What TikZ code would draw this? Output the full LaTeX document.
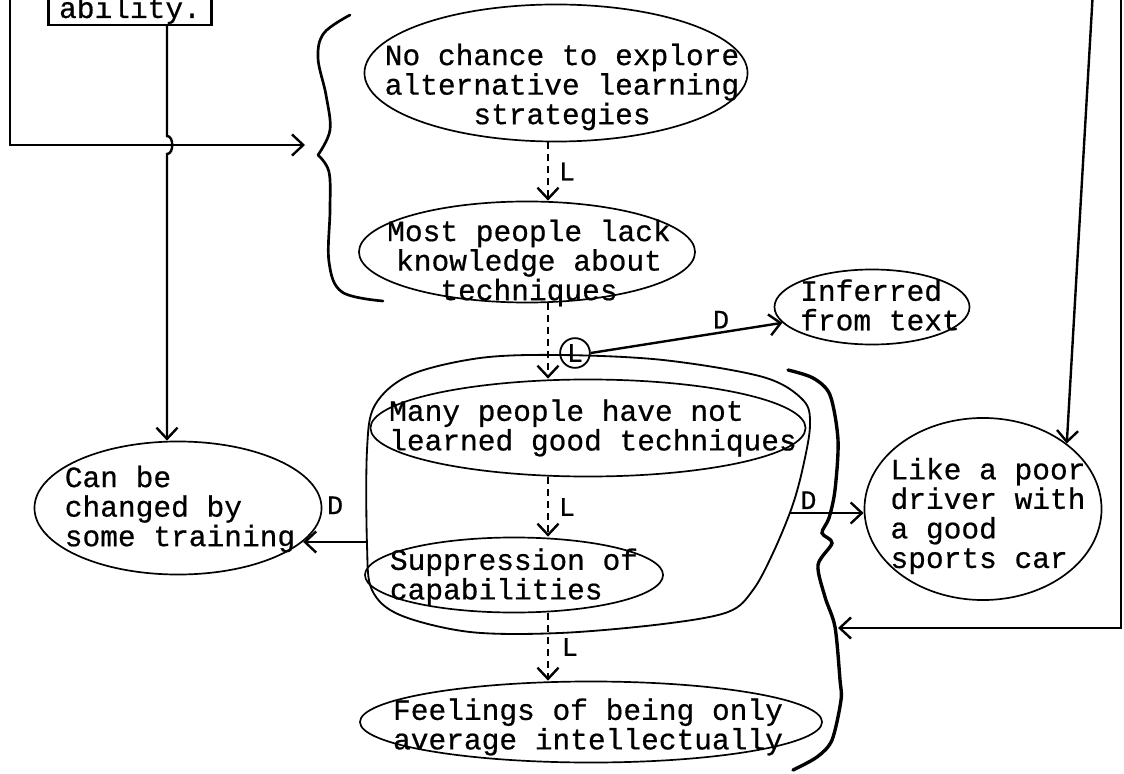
\documentclass[tikz,border=0pt]{standalone}
\usepackage{fontspec}
\setmonofont{Liberation Mono}[FakeBold=0.6]
\usetikzlibrary{shapes.geometric, arrows.meta}
\tikzset{
  bubble/.style 2 args={
    ellipse,
    draw,
    line width=1.2pt,
    minimum width=#1,
    minimum height=#2,
    inner sep=0pt
  },
  note/.style={
    font=\ttfamily\fontsize{21}{21}\selectfont,
    inner sep=0pt
  },
  tag/.style={
    font=\ttfamily\fontsize{19}{19}\selectfont,
    inner sep=1pt
  },
  flow/.style={
    -{Straight Barb[length=8pt,width=15pt]},
    line width=1.7pt
  },
  lflow/.style={
    flow,
    dash pattern=on 5pt off 3.5pt
  },
  brace line/.style={
    line width=1.9pt,
    line cap=round
  }
}

\begin{document}
\begin{tikzpicture}[x=0.025cm, y=-0.025cm]
    \useasboundingbox (0,0) rectangle (1124,774);

    % 1. box at the top, cut by the page edge
    \node[note, draw, line width=1.7pt, anchor=south, minimum width=4.075cm,
          text height=1cm, text depth=0.1cm, inner sep=2pt] (ability) at (130,26) {ability.};

    % 2. the bubbles
    \node[bubble={9.575cm}{3.425cm}] (chance) at (556,73) {};
    \node[note, align=center] (chance-t) at (562,87) {No chance to explore\\alternative learning\\strategies};

    \node[bubble={8.4cm}{2.525cm}] (lack) at (527,252) {};
    \node[note, align=center] (lack-t) at (529,263) {Most people lack\\knowledge about\\techniques};

    \node[bubble={4.875cm}{1.875cm}] (inferred) at (872,307) {};
    \node[note, align=left] (inferred-t) at (880,305) {Inferred\\from text};

    \node[bubble={10.875cm}{2.425cm}] (many) at (588,428) {};
    \node[note, align=left] (many-t) at (593,428) {Many people have not\\learned good techniques};

    \node[bubble={7.45cm}{1.875cm}] (supp) at (514,575) {};
    \node[note, align=left] (supp-t) at (514,577) {Suppression of\\capabilities};

    \node[bubble={11.55cm}{2.025cm}] (feel) at (591,722) {};
    \node[note, align=left] (feel-t) at (588,727) {Feelings of being only\\average intellectually};

    \node[bubble={7.175cm}{3.325cm}] (train) at (178,508) {};
    \node[note, align=left] (train-t) at (180,509) {Can be\\changed by\\some training};

    \node[bubble={5.925cm}{4.55cm}] (poor) at (983,509) {};
    \node[note, align=left] (poor-t) at (988,516) {Like a poor\\driver with\\a good\\sports car};

    % 3. brace round the two upper bubbles
    \draw[brace line] plot[smooth, tension=0.6] coordinates {(350,15) (324,33) (318,58) (326,95) (330,130) (318,155)};
    \draw[brace line] plot[smooth, tension=0.6] coordinates {(318,155) (329,172) (330,210) (329,262) (342,292) (383,301)};

    % 4. outline round "many" and "supp"
    \draw[line width=1.3pt] plot[smooth cycle, tension=0.55] coordinates {
      (560,355) (663,360) (763,377) (803,400) (810,425) (803,467) (792,507)
      (773,553) (753,590) (728,612) (663,624) (560,633) (470,632) (400,615)
      (372,590) (367,545) (367,450) (375,405) (410,375) (480,358)};
    \coordinate (blobW) at (367,542);
    \coordinate (blobE) at (790,513);

    % 5. heavy bracket on the right
    \draw[brace line, line width=2.4pt] plot[smooth, tension=0.5] coordinates {
      (788,370) (813,378) (830,395) (838,440) (835,490) (829,518) (822,533)
      (832,543) (818,565) (825,597) (835,627) (840,680) (841,700) (832,740)
      (817,757) (793,770)};
    \coordinate (bendIn) at (838,628);

    % 6. links marked L
    \coordinate (Lx) at (548,0);
    \draw[lflow] (chance.south -| Lx) -- (lack.north -| Lx) node[tag, midway, right=6pt] (l1) {L};
    \draw[lflow] (lack.south -| Lx) -- (many.north -| Lx);
    \node[tag, circle, draw, line width=1.3pt, inner sep=1.5pt] (cL) at (575,353) {L};
    \draw[lflow] (many.south -| Lx) -- (supp.north -| Lx) node[tag, midway, right=6pt] (l3) {L};
    \draw[lflow] (supp.south -| Lx) -- (feel.north -| Lx) node[tag, midway, right=8pt] (l4) {L};

    % 7. links marked D
    \draw[flow] (cL.east) -- (inferred.190) node[tag, pos=0.68, above=1pt] (d1) {D};
    \draw[flow] (blobW) -- (blobW -| train.-15) node[tag, midway, above=18pt] (d2) {D};
    \draw[flow] (blobE) -- (blobE -| poor.west) node[tag, pos=0.25, above=1pt] (d3) {D};

    % 8. lines coming in from outside
    \coordinate (hopX) at (167,0);
    \coordinate (leftTop) at (10,-10);
    \coordinate (braceIn) at (305,145);
    \draw[flow] (leftTop) |- (braceIn);
    \draw[flow] (ability.south -| hopX) -- (167,136) to[out=0, in=0] (167,154) -- (train.north -| hopX);

    \coordinate (rightTop) at (1093,-10);
    \coordinate (farTop) at (1121,-10);
    \draw[flow] (rightTop) -- (poor.38);
    \draw[flow] (farTop) |- (bendIn);

\end{tikzpicture}
\end{document}
